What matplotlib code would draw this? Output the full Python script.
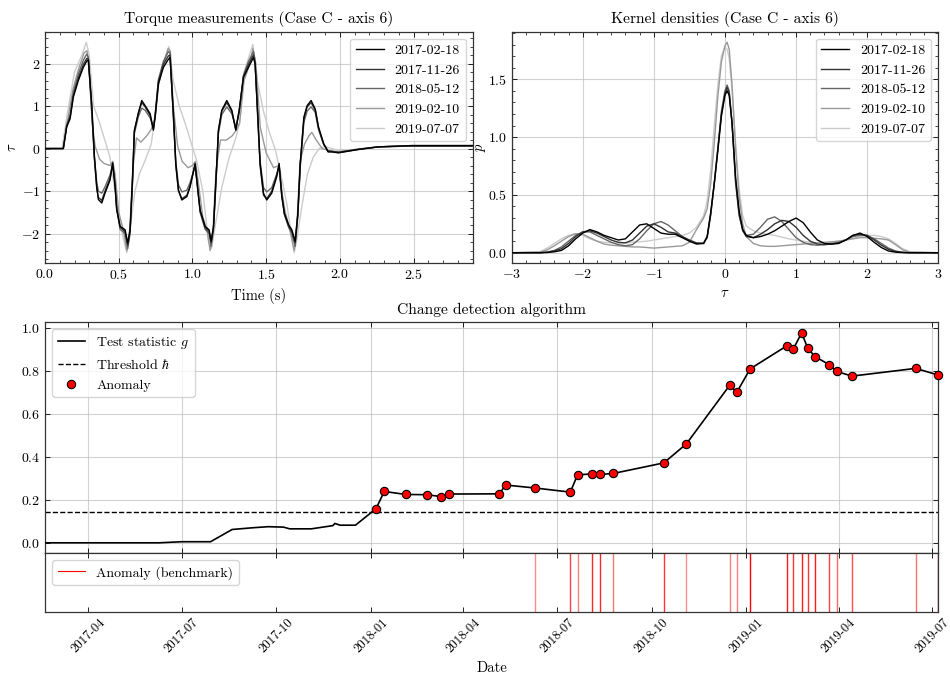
import matplotlib
matplotlib.use('Agg')
from matplotlib import pyplot as plt
import matplotlib.dates as mdates
from matplotlib.ticker import AutoMinorLocator, MultipleLocator
import pandas as pd

plt.rcParams['font.family'] = 'serif'
plt.rcParams['font.serif'] = ['cmr10']
plt.rcParams['mathtext.fontset'] = 'cm'
plt.rcParams['axes.formatter.use_mathtext'] = True
plt.rcParams['font.size'] = 10

# --- DATA ------------------------------------------------------------+

labels = ['2017-02-18', '2017-11-26', '2018-05-12', '2019-02-10', '2019-07-07']
greys = ['0.0', '0.2', '0.4', '0.6', '0.8']

# torque, first three measurements share a time grid
t_a = [0.0, 0.124, 0.147, 0.17, 0.192, 0.226, 0.26, 0.283, 0.294, 0.317,
       0.335, 0.351, 0.362, 0.385, 0.407, 0.441, 0.459, 0.475, 0.486, 0.509,
       0.543, 0.561, 0.577, 0.593, 0.606, 0.633, 0.656, 0.679, 0.713, 0.735,
       0.747, 0.769, 0.803, 0.837, 0.848, 0.871, 0.887, 0.905, 0.928, 0.962,
       0.984, 1.018, 1.036, 1.052, 1.086, 1.113, 1.127, 1.143, 1.165, 1.176,
       1.199, 1.233, 1.267, 1.294, 1.317, 1.346, 1.380, 1.414, 1.425, 1.443,
       1.459, 1.482, 1.504, 1.538, 1.572, 1.588, 1.606, 1.624, 1.652, 1.674,
       1.697, 1.715, 1.731, 1.756, 1.778, 1.805, 1.833, 1.855, 1.89, 1.92,
       1.946, 1.991, 2.127, 2.262, 2.489, 2.9]
tq_1 = [0.0, 0.0, 0.51, 0.70, 1.21, 1.60, 1.91, 2.06, 2.08, 1.05,
        -0.19, -0.90, -1.20, -1.28, -1.05, -0.74, -0.35, -0.90, -1.44, -1.83,
        -1.91, -2.22, -1.91, -0.74, 0.43, 0.82, 1.13, 1.01, 0.82, 0.43,
        0.74, 1.52, 1.91, 2.10, 2.14, 0.82, -0.35, -0.97, -1.21, -1.13,
        -0.90, -0.35, -0.97, -1.44, -1.83, -1.91, -2.18, -1.83, -0.35, 0.43,
        0.90, 1.13, 0.90, 0.43, 0.90, 1.67, 1.91, 2.14, 1.99, 0.82,
        -0.35, -1.05, -1.21, -1.05, -0.66, -0.35, -1.13, -1.52, -1.79, -1.91,
        -2.18, -1.52, -0.35, 0.74, 1.01, 1.13, 0.93, 0.51, 0.12, -0.08,
        -0.08, -0.10, -0.02, 0.04, 0.07, 0.07]
tq_2 = [0.0, 0.0, 0.53, 0.74, 1.25, 1.66, 1.98, 2.12, 2.10, 0.95,
        -0.25, -0.95, -1.15, -1.22, -1.0, -0.7, -0.33, -0.85, -1.40, -1.85,
        -1.95, -2.28, -1.95, -0.80, 0.40, 0.85, 1.08, 0.98, 0.78, 0.45,
        0.78, 1.58, 1.98, 2.18, 2.2, 0.75, -0.40, -1.0, -1.18, -1.10,
        -0.88, -0.38, -0.95, -1.48, -1.86, -1.95, -2.22, -1.85, -0.40, 0.40,
        0.88, 1.08, 0.88, 0.45, 0.88, 1.70, 1.98, 2.20, 2.02, 0.75,
        -0.40, -1.10, -1.18, -1.0, -0.62, -0.38, -1.10, -1.55, -1.82, -1.95,
        -2.22, -1.55, -0.40, 0.70, 0.98, 1.08, 0.90, 0.48, 0.10, -0.06,
        -0.07, -0.09, -0.02, 0.04, 0.06, 0.06]
tq_3 = [0.0, 0.0, 0.56, 0.80, 1.32, 1.75, 2.08, 2.22, 2.15, 0.85,
        -0.20, -0.80, -1.00, -1.05, -0.90, -0.62, -0.38, -0.80, -1.38, -1.90,
        -2.0, -2.35, -2.0, -0.85, 0.35, 0.75, 0.95, 0.90, 0.72, 0.50,
        0.80, 1.62, 2.05, 2.28, 2.25, 0.70, -0.30, -0.85, -1.02, -0.98,
        -0.80, -0.42, -0.90, -1.50, -1.90, -2.0, -2.30, -1.90, -0.45, 0.35,
        0.80, 0.98, 0.82, 0.50, 0.85, 1.72, 2.05, 2.28, 2.05, 0.70,
        -0.30, -0.92, -1.02, -0.92, -0.60, -0.42, -1.0, -1.55, -1.85, -2.0,
        -2.30, -1.60, -0.45, 0.62, 0.88, 0.98, 0.85, 0.45, 0.10, -0.05,
        -0.06, -0.08, -0.01, 0.04, 0.06, 0.06]
t_4 = [0.0, 0.124, 0.15, 0.19, 0.23, 0.265, 0.285, 0.30, 0.32, 0.34,
       0.37, 0.40, 0.44, 0.46, 0.475, 0.50, 0.53, 0.555, 0.575, 0.595,
       0.62, 0.65, 0.69, 0.72, 0.745, 0.77, 0.80, 0.835, 0.85, 0.87,
       0.90, 0.93, 0.97, 1.0, 1.02, 1.04, 1.07, 1.10, 1.12, 1.14,
       1.16, 1.19, 1.23, 1.27, 1.30, 1.32, 1.35, 1.39, 1.41, 1.43,
       1.46, 1.50, 1.55, 1.585, 1.60, 1.63, 1.66, 1.69, 1.71, 1.73,
       1.76, 1.79, 1.81, 1.84, 1.88, 1.93, 1.99, 2.13, 2.26, 2.49, 2.9]
tq_4 = [0.0, 0.0, 0.6, 1.4, 1.9, 2.25, 2.3, 1.8, 0.6, 0.05,
        -0.25, -0.35, -0.4, -0.3, -0.6, -1.5, -1.9, -2.4, -1.9, -0.5,
        0.25, 0.15, 0.3, 0.45, 0.7, 1.5, 1.95, 2.35, 2.3, 1.0,
        0.05, -0.3, -0.45, -0.4, -0.3, -0.8, -1.6, -1.95, -2.4, -1.9,
        -0.5, 0.2, 0.2, 0.3, 0.45, 0.6, 1.6, 2.0, 2.35, 2.0,
        0.5, -0.1, -0.45, -0.4, -0.9, -1.5, -1.9, -2.4, -1.7, -0.3,
        0.1, 0.3, 0.38, 0.2, 0.0, -0.05, -0.1, -0.02, 0.04, 0.07, 0.07]
t_5 = [0.0, 0.115, 0.15, 0.20, 0.25, 0.28, 0.30, 0.33, 0.37, 0.41,
       0.44, 0.47, 0.50, 0.53, 0.555, 0.58, 0.61, 0.64, 0.68, 0.72,
       0.75, 0.77, 0.80, 0.84, 0.87, 0.91, 0.95, 0.99, 1.03, 1.07,
       1.11, 1.13, 1.16, 1.20, 1.25, 1.29, 1.32, 1.35, 1.41, 1.44,
       1.48, 1.52, 1.56, 1.60, 1.64, 1.69, 1.71, 1.74, 1.78, 1.82,
       1.86, 1.90, 1.99, 2.13, 2.26, 2.49, 2.9]
tq_5 = [0.0, 0.0, 0.8, 1.8, 2.2, 2.5, 2.2, 1.0, 0.6, 0.15,
        -0.2, -0.9, -1.5, -2.1, -2.45, -1.8, -1.0, -0.6, -0.27, 0.1,
        0.8, 1.5, 2.0, 2.4, 1.6, 1.0, 0.6, 0.15, -0.3, -1.0,
        -2.2, -2.35, -1.7, -0.9, -0.2, 0.2, 0.6, 1.8, 2.45, 1.6,
        0.9, 0.4, 0.0, -0.6, -1.3, -2.45, -2.1, -1.4, -0.6, -0.2,
        0.0, 0.05, -0.05, -0.02, 0.04, 0.07, 0.07]

# kernel densities, common grid
x_kde = [-3.0, -2.6, -2.5, -2.4, -2.3, -2.2, -2.1, -2.0, -1.9, -1.8,
         -1.7, -1.6, -1.5, -1.4, -1.3, -1.2, -1.1, -1.0, -0.9, -0.8,
         -0.7, -0.6, -0.5, -0.4, -0.3, -0.25, -0.2, -0.15, -0.1, -0.05,
         0.0, 0.03, 0.06, 0.1, 0.15, 0.2, 0.25, 0.3, 0.4, 0.5,
         0.6, 0.7, 0.8, 0.9, 1.0, 1.1, 1.2, 1.3, 1.4, 1.5,
         1.6, 1.7, 1.8, 1.9, 2.0, 2.1, 2.2, 2.3, 2.4, 2.5,
         2.6, 3.0]
p_1 = [0.0, 0.0, 0.002, 0.008, 0.02, 0.06, 0.12, 0.17, 0.20, 0.18,
       0.15, 0.13, 0.11, 0.12, 0.18, 0.24, 0.25, 0.21, 0.17, 0.16,
       0.16, 0.13, 0.10, 0.075, 0.08, 0.14, 0.35, 0.6, 0.88, 1.18,
       1.36, 1.40, 1.36, 1.12, 0.65, 0.36, 0.20, 0.15, 0.13, 0.14,
       0.16, 0.19, 0.23, 0.27, 0.30, 0.26, 0.18, 0.11, 0.08, 0.075,
       0.08, 0.11, 0.15, 0.17, 0.14, 0.09, 0.045, 0.015, 0.005, 0.001,
       0.0, 0.0]
p_2 = [0.0, 0.0, 0.004, 0.015, 0.035, 0.08, 0.14, 0.18, 0.19, 0.17,
       0.14, 0.11, 0.09, 0.085, 0.11, 0.17, 0.23, 0.25, 0.22, 0.18,
       0.17, 0.14, 0.11, 0.085, 0.08, 0.13, 0.33, 0.6, 0.9, 1.2,
       1.38, 1.43, 1.38, 1.12, 0.62, 0.33, 0.19, 0.14, 0.13, 0.16,
       0.20, 0.25, 0.28, 0.27, 0.22, 0.15, 0.10, 0.075, 0.07, 0.075,
       0.085, 0.11, 0.15, 0.16, 0.15, 0.11, 0.065, 0.03, 0.01, 0.003,
       0.0, 0.0]
p_3 = [0.0, 0.001, 0.006, 0.02, 0.05, 0.10, 0.15, 0.18, 0.18, 0.15,
       0.12, 0.09, 0.07, 0.06, 0.07, 0.12, 0.19, 0.25, 0.27, 0.24,
       0.19, 0.14, 0.10, 0.08, 0.085, 0.14, 0.33, 0.6, 0.9, 1.22,
       1.40, 1.45, 1.40, 1.12, 0.60, 0.32, 0.20, 0.15, 0.16, 0.22,
       0.29, 0.31, 0.27, 0.20, 0.13, 0.09, 0.07, 0.065, 0.07, 0.08,
       0.09, 0.11, 0.14, 0.15, 0.15, 0.12, 0.08, 0.04, 0.015, 0.004,
       0.0, 0.0]
p_4 = [0.0, 0.005, 0.025, 0.06, 0.10, 0.14, 0.165, 0.16, 0.13, 0.10,
       0.075, 0.065, 0.06, 0.055, 0.05, 0.05, 0.045, 0.04, 0.045, 0.05,
       0.055, 0.06, 0.09, 0.20, 0.30, 0.38, 0.60, 0.95, 1.35, 1.65,
       1.79, 1.82, 1.76, 1.45, 0.90, 0.48, 0.25, 0.14, 0.08, 0.06,
       0.055, 0.055, 0.06, 0.065, 0.07, 0.075, 0.08, 0.085, 0.09, 0.095,
       0.10, 0.11, 0.12, 0.13, 0.13, 0.125, 0.12, 0.11, 0.07, 0.025,
       0.005, 0.0]
p_5 = [0.0, 0.01, 0.04, 0.08, 0.12, 0.15, 0.165, 0.15, 0.12, 0.10,
       0.09, 0.085, 0.085, 0.085, 0.09, 0.095, 0.10, 0.11, 0.12, 0.13,
       0.14, 0.15, 0.17, 0.22, 0.32, 0.45, 0.72, 1.10, 1.45, 1.70,
       1.78, 1.76, 1.68, 1.40, 0.95, 0.55, 0.32, 0.23, 0.19, 0.17,
       0.16, 0.15, 0.135, 0.12, 0.11, 0.10, 0.09, 0.085, 0.085, 0.09,
       0.10, 0.11, 0.125, 0.14, 0.15, 0.15, 0.14, 0.12, 0.08, 0.035,
       0.01, 0.0]

# change detection
pre_dates = ['2017-02-18', '2017-06-09', '2017-07-01', '2017-07-29', '2017-08-19',
             '2017-09-08', '2017-09-23', '2017-10-08', '2017-10-14', '2017-11-04',
             '2017-11-25', '2017-11-27', '2017-12-02', '2017-12-17']
pre_g = [0.0, 0.0, 0.005, 0.005, 0.062, 0.070, 0.075, 0.073, 0.065, 0.065,
         0.080, 0.090, 0.082, 0.082]
anom_dates = ['2018-01-06', '2018-01-14', '2018-02-04', '2018-02-25', '2018-03-10',
              '2018-03-18', '2018-05-06', '2018-05-12', '2018-06-10', '2018-07-14',
              '2018-07-21', '2018-08-04', '2018-08-12', '2018-08-25', '2018-10-13',
              '2018-11-04', '2018-12-16', '2018-12-23', '2019-01-05', '2019-02-10',
              '2019-02-16', '2019-02-24', '2019-03-02', '2019-03-09', '2019-03-23',
              '2019-03-30', '2019-04-14', '2019-06-15', '2019-07-07']
anom_g = [0.159, 0.239, 0.225, 0.224, 0.215, 0.227, 0.228, 0.269, 0.255, 0.236,
          0.316, 0.321, 0.318, 0.323, 0.372, 0.461, 0.733, 0.701, 0.810, 0.918,
          0.903, 0.977, 0.906, 0.867, 0.829, 0.798, 0.776, 0.812, 0.781]
threshold = 0.142

bench_dates = ['2018-06-10', '2018-07-14', '2018-07-21', '2018-08-04', '2018-08-12',
               '2018-08-25', '2018-10-13', '2018-11-04', '2018-12-16', '2018-12-23',
               '2019-01-05', '2019-02-10', '2019-02-16', '2019-02-24', '2019-03-02',
               '2019-03-09', '2019-03-23', '2019-03-30', '2019-04-14', '2019-06-15',
               '2019-07-07']
bench_alpha = [0.45, 0.75, 0.5, 0.85, 0.85, 0.55, 0.8, 0.45, 0.5, 0.5,
               1.0, 0.9, 0.8, 0.9, 0.8, 0.9, 0.75, 0.6, 0.7, 0.55, 1.0]

# --- FUNCTIONS -------------------------------------------------------+


def style_axes(ax, minor=True):
    ax.tick_params(which='both', direction='in', top=True, right=True)
    ax.tick_params(which='major', length=3.5, width=0.6)
    ax.tick_params(which='minor', length=2, width=0.5)
    if minor:
        ax.xaxis.set_minor_locator(AutoMinorLocator(5))
        ax.yaxis.set_minor_locator(AutoMinorLocator(5))
    for s in ax.spines.values():
        s.set_linewidth(0.9)
        s.set_color('0.2')


def grid(ax):
    ax.grid(True, color='0.75', alpha=0.7, linewidth=0.8)
    ax.set_axisbelow(True)


# --- FIGURE ----------------------------------------------------------+

fig = plt.figure(figsize=(9.5, 6.75), dpi=100)

ax1 = fig.add_axes([0.0474, 0.610, 0.450, 0.343])
ax2 = fig.add_axes([0.5386, 0.610, 0.449, 0.343])
ax3 = fig.add_axes([0.0474, 0.1803, 0.9403, 0.342])
ax4 = fig.add_axes([0.0474, 0.0938, 0.9403, 0.0865], sharex=ax3)

# PLOT TORQUE
t_list = [t_a, t_a, t_a, t_4, t_5]
tq_list = [tq_1, tq_2, tq_3, tq_4, tq_5]
for i in range(len(labels))[::-1]:
    ax1.plot(t_list[i], tq_list[i], color=greys[i], lw=1.0, label=labels[i], zorder=5 - i)
h, l = ax1.get_legend_handles_labels()
ax1.legend(h[::-1], l[::-1], loc='upper right', fontsize=10)
ax1.set_xlim(0, 2.9)
ax1.set_xlabel('Time (s)', fontsize=10.5)
ax1.set_ylabel(r'$\tau$', fontsize=10.5)
ax1.yaxis.set_label_coords(-0.062, 0.5)
ax1.set_title('Torque measurements (Case C - axis 6)', fontsize=11.2)
ax1.xaxis.set_major_locator(MultipleLocator(0.5))
style_axes(ax1)
grid(ax1)

# PLOT KDE
p_list = [p_1, p_2, p_3, p_4, p_5]
for i in range(len(labels))[::-1]:
    ax2.plot(x_kde, p_list[i], color=greys[i], lw=1.0, label=labels[i], zorder=5 - i)
h, l = ax2.get_legend_handles_labels()
ax2.legend(h[::-1], l[::-1], loc='upper right', fontsize=10)
ax2.set_xlim(-3, 3)
ax2.set_xlabel(r'$\tau$', fontsize=10.5)
ax2.set_ylabel(r'$p$', fontsize=10.5)
ax2.yaxis.set_label_coords(-0.055, 0.5)
ax2.set_title('Kernel densities (Case C - axis 6)', fontsize=11.2)
ax2.yaxis.set_major_locator(MultipleLocator(0.5))
style_axes(ax2)
grid(ax2)

# PLOT CHANGE DETECTION
g_dates = pd.to_datetime(pre_dates + anom_dates)
g_vals = pre_g + anom_g
ax3.plot(g_dates, g_vals, color='k', lw=1.2, label=r'Test statistic $g$', zorder=3)
ax3.axhline(threshold, color='k', lw=1.0, ls='--', label=r'Threshold $\hbar$', zorder=2)
ax3.plot(pd.to_datetime(anom_dates), anom_g, 'o', color='red', mec='k', mew=0.8,
         ms=6, label='Anomaly', zorder=4, clip_on=False)
ax3.legend(loc='upper left', fontsize=10)
ax3.set_title('Change detection algorithm', fontsize=11.2)
ax3.yaxis.set_major_locator(MultipleLocator(0.2))
style_axes(ax3, minor=False)
grid(ax3)
ax3.tick_params(labelbottom=False)

for d, a in zip(pd.to_datetime(bench_dates), bench_alpha):
    ax4.axvline(d, color='red', lw=1.0, alpha=a)
ax4.plot([], [], color='red', lw=0.8, label='Anomaly (benchmark)')
ax4.legend(loc='upper left', fontsize=10)
ax4.set_ylim(0, 1)
ax4.set_yticks([])
style_axes(ax4, minor=False)
ax4.tick_params(right=False, left=False)
ax4.xaxis.set_major_locator(mdates.MonthLocator(bymonth=[1, 4, 7, 10]))
ax4.xaxis.set_major_formatter(mdates.DateFormatter('%Y-%m'))
ax4.set_xlim(pd.Timestamp('2017-02-18'), pd.Timestamp('2019-07-07'))
plt.setp(ax4.get_xticklabels(), rotation=45, fontsize=9.3)
ax4.set_xlabel('Date', fontsize=10.5)

plt.savefig('out.png', dpi=100)
